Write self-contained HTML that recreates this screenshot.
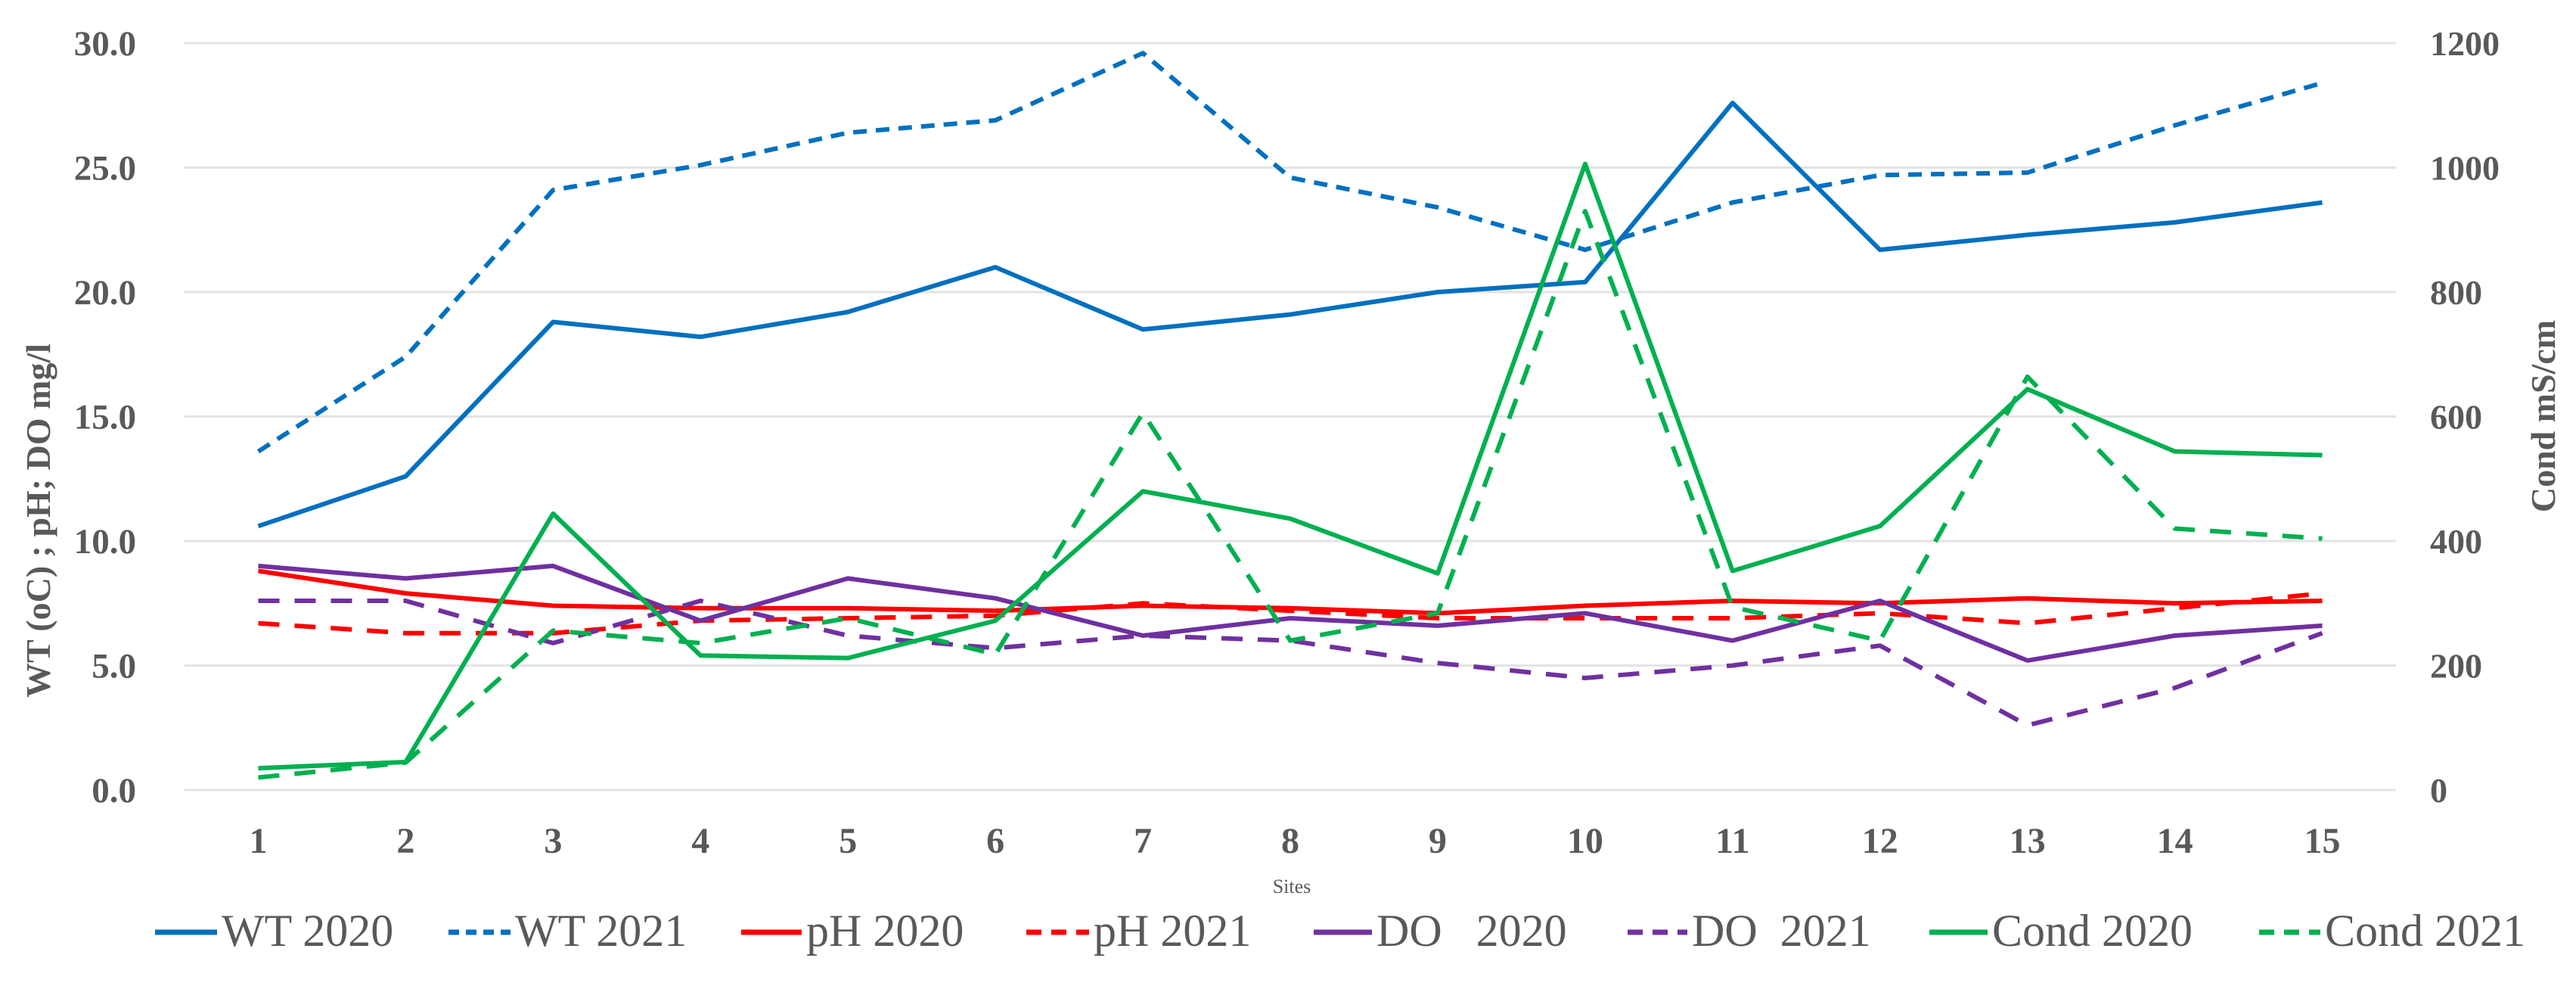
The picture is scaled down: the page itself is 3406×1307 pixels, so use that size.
<!DOCTYPE html>
<html><head><meta charset="utf-8">
<style>
html,body{margin:0;padding:0;background:#fff;}
svg{display:block;}
text{font-family:"Liberation Serif",serif;fill:#595959;}
</style></head>
<body>
<svg id="chart" width="3406" height="1307" viewBox="0 0 3406 1307" xmlns="http://www.w3.org/2000/svg">
<g id="grid"></g>
<g id="yLeft"></g>
<g id="yRight"></g>
<g id="xAxis"></g>
<g id="series"></g>
<text transform="translate(66,688) rotate(-90)" text-anchor="middle" font-size="46" font-weight="bold">WT (oC) ; pH; DO mg/l</text>
<text transform="translate(3378,550) rotate(-90)" text-anchor="middle" font-size="46" font-weight="bold">Cond mS/cm</text>
<text x="1708" y="1180" text-anchor="middle" font-size="26">Sites</text>
<g id="legend"></g>
</svg>
<script>
const sites = [1,2,3,4,5,6,7,8,9,10,11,12,13,14,15];
const leftTicks = ["0.0","5.0","10.0","15.0","20.0","25.0","30.0"];
const rightTicks = ["0","200","400","600","800","1000","1200"];
const wt2020 = [10.6,12.6,18.8,18.2,19.2,21.0,18.5,19.1,20.0,20.4,27.6,21.7,22.3,22.8,23.6];
const wt2021 = [13.6,17.4,24.1,25.1,26.4,26.9,29.6,24.6,23.4,21.7,23.6,24.7,24.8,26.7,28.4];
const ph2020 = [8.8,7.9,7.4,7.3,7.3,7.2,7.4,7.3,7.1,7.4,7.6,7.5,7.7,7.5,7.6];
const ph2021 = [6.7,6.3,6.3,6.8,6.9,7.0,7.5,7.2,6.9,6.9,6.9,7.1,6.7,7.3,7.9];
const do2020 = [9.0,8.5,9.0,6.8,8.5,7.7,6.2,6.9,6.6,7.1,6.0,7.6,5.2,6.2,6.6];
const do2021 = [7.6,7.6,5.9,7.6,6.2,5.7,6.2,6.0,5.1,4.5,5.0,5.8,2.6,4.1,6.3];
const cond2020 = [35,45,444,216,212,272,480,436,348,1006,352,424,644,544,538];
const cond2021 = [20,44,256,236,276,218,606,240,284,930,294,240,664,420,404];

const NS = "http://www.w3.org/2000/svg";
const PL = 244, PR = 3168, Y0 = 1044, Y30 = 57;
const band = (PR - PL) / sites.length;
function xPos(i){ return PL + band * (i + 0.5); }
function yL(v){ return Y0 - (v / 30) * (Y0 - Y30); }
function yR(v){ return Y0 - (v / 1200) * (Y0 - Y30); }
function mk(tag, attrs, parent){
  const e = document.createElementNS(NS, tag);
  for (const k in attrs) e.setAttribute(k, attrs[k]);
  parent.appendChild(e);
  return e;
}
const grid = document.getElementById('grid');
const gL = document.getElementById('yLeft');
const gR = document.getElementById('yRight');
leftTicks.forEach((t, i) => {
  const v = parseFloat(t);
  const y = yL(v);
  const ln = mk('line', {x1:PL, x2:PR, y1:y, y2:y, stroke:'#e3e3e3', 'stroke-width':3}, grid);
  
  
  const tx = mk('text', {x:180, y:y + 16, 'text-anchor':'end', 'font-size':47, 'font-weight':'bold'}, gL);
  tx.textContent = t;
  
  
});
rightTicks.forEach((t) => {
  const y = yR(parseFloat(t));
  const tx = mk('text', {x:3213, y:y + 16, 'text-anchor':'start', 'font-size':46, 'font-weight':'bold'}, gR);
  tx.textContent = t;
  
  
});
const gX = document.getElementById('xAxis');
sites.forEach((s, i) => {
  const tx = mk('text', {x:xPos(i), y:1127, 'text-anchor':'middle', 'font-size':48, 'font-weight':'bold'}, gX);
  tx.textContent = s;
  
  
});
const seriesDefs = [
  {name:'wt-2020', label:'WT 2020', data:wt2020, axis:yL, color:'#0070C0', dash:'', lx:205, tx:293},
  {name:'wt-2021', label:'WT 2021', data:wt2021, axis:yL, color:'#0070C0', dash:'18 12', lx:593, tx:681},
  {name:'ph-2020', label:'pH 2020', data:ph2020, axis:yL, color:'#FF0000', dash:'', lx:980, tx:1066},
  {name:'ph-2021', label:'pH 2021', data:ph2021, axis:yL, color:'#FF0000', dash:'28 20', lx:1357, tx:1446},
  {name:'do-2020', label:'DO   2020', data:do2020, axis:yL, color:'#7030A0', dash:'', lx:1737, tx:1820},
  {name:'do-2021', label:'DO  2021', data:do2021, axis:yL, color:'#7030A0', dash:'28 20', lx:2152, tx:2237},
  {name:'cond-2020', label:'Cond 2020', data:cond2020, axis:yR, color:'#00B050', dash:'', lx:2551, tx:2634},
  {name:'cond-2021', label:'Cond 2021', data:cond2021, axis:yR, color:'#00B050', dash:'28 20', lx:2987, tx:3074}
];
const gS = document.getElementById('series');
const gLeg = document.getElementById('legend');
seriesDefs.forEach(sd => {
  const pts = sd.data.map((v, i) => xPos(i).toFixed(1) + ',' + sd.axis(v).toFixed(1)).join(' ');
  const attrs = {points:pts, fill:'none', stroke:sd.color, 'stroke-width':6, 'stroke-linejoin':'round'};
  if (sd.dash) attrs['stroke-dasharray'] = sd.dash;
  const pl = mk('polyline', attrs, gS);
  
  
  const la = {x1:sd.lx, x2:sd.tx - 6, y1:1232, y2:1232, stroke:sd.color, 'stroke-width':7};
  if (sd.dash) la['stroke-dasharray'] = sd.dash === '18 12' ? '14 9' : '20 13';
  const ll = mk('line', la, gLeg);
  
  
  const t = mk('text', {x:sd.tx, y:1250, 'font-size':60, 'xml:space':'preserve'}, gLeg);
  t.setAttribute('style', 'white-space:pre');
  t.textContent = sd.label;
  
  
});
</script>
</body></html>
